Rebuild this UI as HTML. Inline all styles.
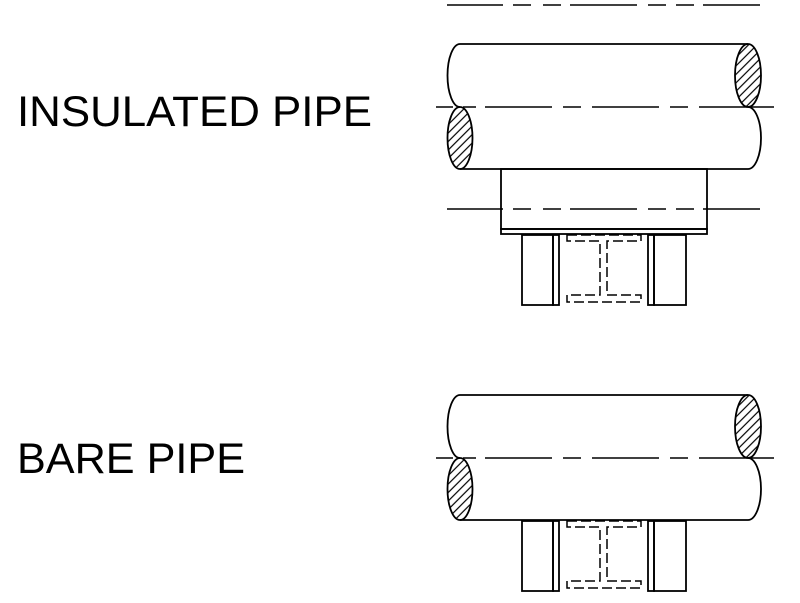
<!DOCTYPE html>
<html><head><style>html,body{margin:0;padding:0;background:#fff}svg{display:block}</style></head>
<body>
<svg width="800" height="603" viewBox="0 0 800 603" xmlns="http://www.w3.org/2000/svg">
<defs>
<pattern id="h" patternUnits="userSpaceOnUse" width="6" height="6" patternTransform="rotate(-45)">
<line x1="0" y1="3" x2="6" y2="3" stroke="#000" stroke-width="1.2"/>
</pattern>
<g id="pipe" fill="none" stroke="#000" stroke-width="1.8">
<path d="M460,44 L748,44 M460,169 L748,169"/>
<path d="M460,44 A12.5,31.5 0 0 0 460,107"/>
<ellipse cx="460" cy="138" rx="12.5" ry="31" fill="url(#h)"/>
<ellipse cx="748" cy="75.5" rx="13" ry="31.5" fill="url(#h)"/>
<path d="M748,107 A13,31 0 0 1 748,169"/>
<path d="M436,107 H453 M463,107 H476 M485,107 H552 M563,107 H581 M592,107 H659 M670,107 H688 M699,107 H774" stroke-width="1.6"/>
</g>
<g id="sup" fill="none" stroke="#000" stroke-width="1.8">
<rect x="522" y="0" width="31" height="70"/>
<rect x="553" y="0" width="6" height="70"/>
<rect x="648" y="0" width="6" height="70"/>
<rect x="654" y="0" width="32" height="70"/>
<path d="M567,0 H641 V6 H607 V60 H641 V67 H567 V60 H600 V6 H567 Z" stroke-dasharray="10,4" stroke-width="1.5"/>
</g>
</defs>
<text x="17" y="126" font-family="Liberation Sans, sans-serif" font-size="43" textLength="355" lengthAdjust="spacingAndGlyphs">INSULATED PIPE</text>
<text x="17" y="473" font-family="Liberation Sans, sans-serif" font-size="43" textLength="228" lengthAdjust="spacingAndGlyphs">BARE PIPE</text>
<path d="M447,5 H503 M513,5 H531 M543,5 H561 M570,5 H637 M648,5 H666 M676,5 H694 M703,5 H760" stroke="#000" stroke-width="1.6"/>
<use href="#pipe"/>
<rect x="501" y="169" width="206" height="60" fill="none" stroke="#000" stroke-width="1.8"/>
<rect x="501" y="229" width="206" height="5" fill="none" stroke="#000" stroke-width="1.8"/>
<path d="M447,209 H503 M513,209 H531 M543,209 H561 M570,209 H637 M648,209 H666 M676,209 H694 M703,209 H760" stroke="#000" stroke-width="1.6"/>
<use href="#sup" transform="translate(0,235)"/>
<use href="#pipe" transform="translate(0,351)"/>
<use href="#sup" transform="translate(0,521)"/>
</svg>
</body></html>
